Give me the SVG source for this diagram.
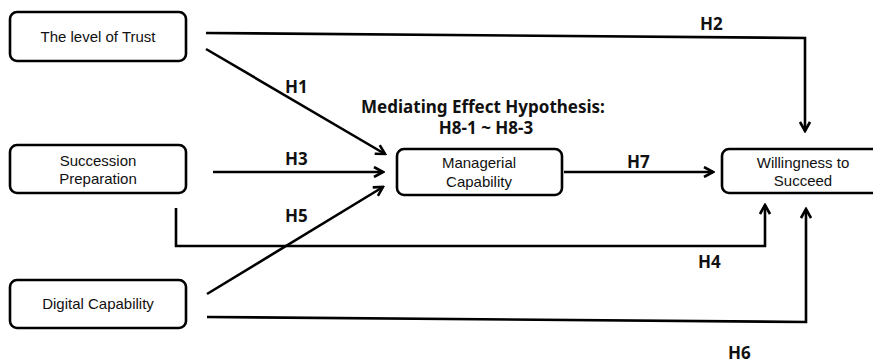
<svg xmlns="http://www.w3.org/2000/svg" width="873" height="363" viewBox="0 0 873 363">
<defs>
<marker id="arr" viewBox="0 0 12 12" refX="10" refY="6" markerWidth="12" markerHeight="12" markerUnits="userSpaceOnUse" orient="auto">
<path d="M1,1 L10,6 L1,11" fill="none" stroke="#000" stroke-width="2.6" stroke-linejoin="miter"/>
</marker>
</defs>
<style>
.box{fill:#fff;stroke:#000;stroke-width:2.6}
.nt{font-family:"Liberation Sans",Arial,sans-serif;font-size:15px;fill:#111;text-anchor:middle}
.lb{font-family:"Noto Sans","Open Sans","DejaVu Sans",sans-serif;font-size:17px;font-weight:bold;fill:#111}
.ln{fill:none;stroke:#000;stroke-width:2.6}
</style>
<rect width="873" height="363" fill="#fff"/>
<g id="connectors">
<polyline class="ln" points="206,33 805,38 805,131" marker-end="url(#arr)"/>
<line class="ln" x1="206" y1="49" x2="385" y2="154" marker-end="url(#arr)"/>
<line class="ln" x1="213" y1="172" x2="383" y2="172" marker-end="url(#arr)"/>
<line class="ln" x1="207" y1="294" x2="383" y2="187" marker-end="url(#arr)"/>
<polyline class="ln" points="176,208 176,246 765,246 765,205" marker-end="url(#arr)"/>
<polyline class="ln" points="207,317 806,322 806,209" marker-end="url(#arr)"/>
<line class="ln" x1="564" y1="172" x2="713" y2="172" marker-end="url(#arr)"/>
</g>
<g id="labels">
<text class="lb" x="700" y="30">H2</text>
<text class="lb" x="285" y="93">H1</text>
<text class="lb" x="285" y="165">H3</text>
<text class="lb" x="285" y="222">H5</text>
<text class="lb" x="627" y="168">H7</text>
<text class="lb" x="698" y="268">H4</text>
<text class="lb" x="728" y="359">H6</text>
<text class="lb" x="483" y="113" text-anchor="middle" font-size="15">Mediating Effect Hypothesis:</text>
<text class="lb" x="486" y="134" text-anchor="middle" font-size="15">H8-1 ~ H8-3</text>
</g>
<g id="trust">
<rect class="box" x="10" y="12" width="176" height="49" rx="7"/>
<text class="nt" x="98" y="42">The level of Trust</text>
</g>
<g id="succession">
<rect class="box" x="10" y="145" width="176" height="48" rx="7"/>
<text class="nt" x="98" y="166">Succession</text>
<text class="nt" x="98" y="184">Preparation</text>
</g>
<g id="digital">
<rect class="box" x="10" y="280" width="176" height="48" rx="7"/>
<text class="nt" x="98" y="309">Digital Capability</text>
</g>
<g id="managerial">
<rect class="box" x="397" y="149" width="165" height="46" rx="7"/>
<text class="nt" x="479" y="168">Managerial</text>
<text class="nt" x="479" y="187">Capability</text>
</g>
<g id="willingness">
<rect class="box" x="722" y="149" width="170" height="44" rx="7"/>
<text class="nt" x="803" y="168">Willingness to</text>
<text class="nt" x="803" y="186">Succeed</text>
</g>
</svg>
